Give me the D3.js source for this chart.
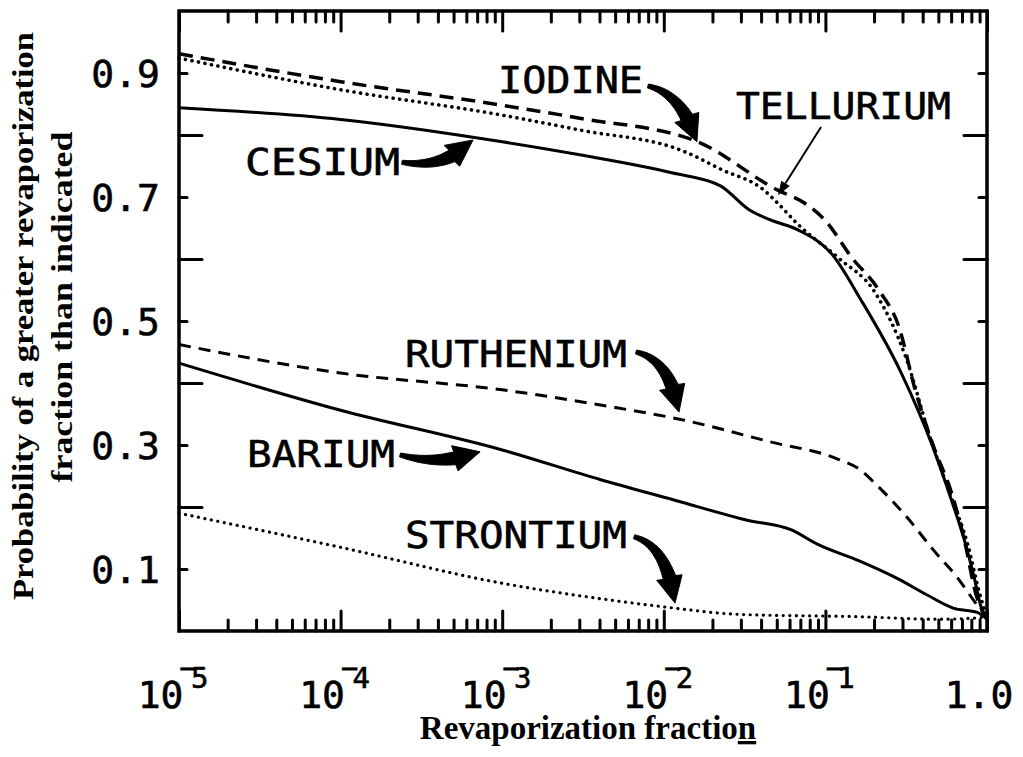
<!doctype html>
<html>
<head>
<meta charset="utf-8">
<style>
  body { margin: 0; background: #fff; }
  svg { display: block; }
  .mono { font-family: "DejaVu Sans Mono", monospace; fill: #000; stroke: #000; stroke-width: 0.6px; }
  .serif { font-family: "Liberation Serif", "Times New Roman", serif; font-weight: bold; fill: #000; }
  .tick line { stroke: #000; stroke-width: 3px; stroke-linecap: round; }
</style>
<script src="https://d3js.org/d3.v7.min.js"></script>
</head>
<body>
<svg width="1023" height="757"></svg>
<script>
// revaporization fraction (x) and probability of a greater value (y)
var cesiumX = [1e-5, 1e-4, 1e-3, 0.00302, 0.0112, 0.0224, 0.0339, 0.0457, 0.0676, 0.1096, 0.166, 0.295, 0.462, 0.603, 0.724, 0.832, 0.918, 1];
var cesiumY = [0.844, 0.825, 0.789, 0.768, 0.739, 0.718, 0.679, 0.663, 0.647, 0.608, 0.534, 0.416, 0.297, 0.211, 0.147, 0.087, 0.039, 0.018];

var iodineX = [1e-5, 1e-4, 1e-3, 0.00302, 0.01585, 0.0507, 0.0745, 0.0991, 0.146, 0.214, 0.288, 0.355, 0.468, 0.603, 0.724, 0.851, 1];
var iodineY = [0.931, 0.886, 0.848, 0.827, 0.790, 0.711, 0.690, 0.663, 0.602, 0.550, 0.487, 0.394, 0.297, 0.223, 0.147, 0.061, 0.020];

var telluriumX = [1e-5, 1e-4, 1e-3, 0.00302, 0.0132, 0.0229, 0.0417, 0.0507, 0.0676, 0.120, 0.204, 0.316, 0.447, 0.603, 0.759, 0.891, 1];
var telluriumY = [0.924, 0.873, 0.832, 0.808, 0.774, 0.744, 0.711, 0.690, 0.656, 0.602, 0.545, 0.440, 0.310, 0.215, 0.140, 0.065, 0.020];

var rutheniumX = [1e-5, 1e-4, 1e-3, 0.00513, 0.0123, 0.0457, 0.120, 0.162, 0.214, 0.316, 0.468, 0.661, 0.851, 1];
var rutheniumY = [0.462, 0.416, 0.389, 0.360, 0.342, 0.305, 0.277, 0.261, 0.232, 0.185, 0.130, 0.085, 0.045, 0.022];

var bariumX = [1e-5, 1e-4, 1e-3, 0.00407, 0.0117, 0.0324, 0.0617, 0.0891, 0.162, 0.282, 0.427, 0.617, 0.871, 1];
var bariumY = [0.432, 0.356, 0.292, 0.244, 0.211, 0.179, 0.163, 0.140, 0.113, 0.084, 0.058, 0.037, 0.030, 0.019];

var strontiumX = [1e-5, 1e-4, 1e-3, 0.00407, 0.0107, 0.0282, 0.166, 0.513, 1];
var strontiumY = [0.190, 0.135, 0.077, 0.052, 0.038, 0.027, 0.023, 0.019, 0.022];

var xMajorExps = [-5, -4, -3, -2, -1];
var xLastLabel = "1.0";
var yTickLabels = [0.1, 0.3, 0.5, 0.7, 0.9];
var yTicksAll = [0.1, 0.2, 0.3, 0.4, 0.5, 0.6, 0.7, 0.8, 0.9];

// element labels: [name, log10 x of centre, y of baseline, width in px]
var labels = [
  ["IODINE", -2.577, 0.868, 145],
  ["TELLURIUM", -0.888, 0.826, 215],
  ["CESIUM", -4.112, 0.735, 155],
  ["RUTHENIUM", -2.915, 0.426, 222],
  ["BARIUM", -4.121, 0.265, 148],
  ["STRONTIUM", -2.915, 0.134, 222]
];
// curved arrows: start, control, tip as [log10 x, y]
var arrows = [
  [[-2.098, 0.879], [-1.885, 0.866], [-1.795, 0.789]],
  [[-3.620, 0.756], [-3.354, 0.745], [-3.181, 0.792]],
  [[-2.172, 0.450], [-1.962, 0.437], [-1.906, 0.353]],
  [[-3.632, 0.284], [-3.385, 0.266], [-3.137, 0.289]],
  [[-2.184, 0.152], [-1.980, 0.137], [-1.931, 0.045]]
];
var telluriumPointer = [[-1.027, 0.813], [-1.293, 0.703]];

var svg = d3.select("svg");
var plotL = 179, plotR = 987, plotT = 11, plotB = 631;

var x = d3.scaleLog().domain([1e-5, 1]).range([plotL, plotR]);
var y = d3.scaleLinear().domain([0, 1]).range([plotB, plotT]);

function px(p) { return [x(Math.pow(10, p[0])), y(p[1])]; }

// ticks
var majors = xMajorExps.map(function(e) { return Math.pow(10, e); }).concat([1]);
var minors = [];
xMajorExps.forEach(function(e) {
  for (var k = 2; k <= 9; k++) minors.push(k * Math.pow(10, e));
});

function clean(g) { g.select(".domain").remove(); g.selectAll("text").remove(); }

svg.append("g").attr("transform", "translate(0," + plotB + ")")
   .call(d3.axisBottom(x).tickValues(majors).tickSize(-20).tickFormat("")).call(clean);
svg.append("g").attr("transform", "translate(0," + plotB + ")")
   .call(d3.axisBottom(x).tickValues(minors).tickSize(-11).tickFormat("")).call(clean);
svg.append("g").attr("transform", "translate(0," + plotT + ")")
   .call(d3.axisTop(x).tickValues(majors).tickSize(-20).tickFormat("")).call(clean);
svg.append("g").attr("transform", "translate(0," + plotT + ")")
   .call(d3.axisTop(x).tickValues(minors).tickSize(-11).tickFormat("")).call(clean);

var evenTicks = yTicksAll.filter(function(v, i) { return i % 2 == 1; });
var oddTicks = yTicksAll.filter(function(v, i) { return i % 2 == 0; });
svg.append("g").attr("transform", "translate(" + plotL + ",0)")
   .call(d3.axisLeft(y).tickValues(evenTicks).tickSize(-23).tickFormat("")).call(clean);
svg.append("g").attr("transform", "translate(" + plotL + ",0)")
   .call(d3.axisLeft(y).tickValues(oddTicks).tickSize(-8).tickFormat("")).call(clean);
svg.append("g").attr("transform", "translate(" + plotR + ",0)")
   .call(d3.axisRight(y).tickValues(evenTicks).tickSize(-23).tickFormat("")).call(clean);
svg.append("g").attr("transform", "translate(" + plotR + ",0)")
   .call(d3.axisRight(y).tickValues(oddTicks).tickSize(-8).tickFormat("")).call(clean);

// frame
svg.append("rect")
   .attr("x", plotL).attr("y", plotT)
   .attr("width", plotR - plotL).attr("height", plotB - plotT)
   .attr("fill", "none").attr("stroke", "#000").attr("stroke-width", 3.5);

// tick labels
svg.selectAll(".ylab").data(yTickLabels).enter().append("text")
   .attr("class", "mono")
   .attr("x", plotL - 19)
   .attr("y", function(d) { return y(d) + 14; })
   .attr("text-anchor", "end")
   .attr("font-size", 38)
   .text(function(d) { return d3.format(".1f")(d); });

xMajorExps.forEach(function(e) {
  var t = svg.append("text").attr("class", "mono")
     .attr("x", x(Math.pow(10, e)) - 6).attr("y", 708)
     .attr("text-anchor", "middle").attr("font-size", 38);
  t.append("tspan").text("10");
  t.append("tspan").attr("font-size", 29).attr("dx", -4).attr("dy", -30).text("\u2212");
  t.append("tspan").attr("font-size", 29).attr("dx", -6).attr("dy", 10).text(String(-e));
});
svg.append("text").attr("class", "mono")
   .attr("x", x(1) - 8).attr("y", 708)
   .attr("text-anchor", "middle").attr("font-size", 38)
   .text(xLastLabel);

// axis titles
var xt = svg.append("text").attr("class", "serif")
   .attr("x", (plotL + plotR) / 2 + 5).attr("y", 739)
   .attr("text-anchor", "middle").attr("font-size", 33);
xt.append("tspan").text("Revaporization fractio");
xt.append("tspan").attr("text-decoration", "underline").text("n");

svg.append("text").attr("class", "serif")
   .attr("transform", "translate(33,316) rotate(-90)")
   .attr("text-anchor", "middle").attr("font-size", 29)
   .attr("textLength", 568).attr("lengthAdjust", "spacingAndGlyphs")
   .text("Probability of a greater revaporization");
svg.append("text").attr("class", "serif")
   .attr("transform", "translate(72,307) rotate(-90)")
   .attr("text-anchor", "middle").attr("font-size", 29)
   .attr("textLength", 351).attr("lengthAdjust", "spacingAndGlyphs")
   .text("fraction than indicated");

// curves
var line = d3.line()
   .x(function(d) { return x(d[0]); })
   .y(function(d) { return y(d[1]); })
   .curve(d3.curveMonotoneX);

function zipXY(xs, ys) { return xs.map(function(v, i) { return [v, ys[i]]; }); }

var series = [
  { pts: zipXY(strontiumX, strontiumY), dash: "0.1 6.5", w: 3.2 },
  { pts: zipXY(bariumX, bariumY), dash: null, w: 3 },
  { pts: zipXY(rutheniumX, rutheniumY), dash: "12 8", w: 3 },
  { pts: zipXY(cesiumX, cesiumY), dash: null, w: 3 },
  { pts: zipXY(telluriumX, telluriumY), dash: "0.1 6.5", w: 3.6 },
  { pts: zipXY(iodineX, iodineY), dash: "14 8", w: 3.5 }
];

series.forEach(function(s) {
  svg.append("path")
     .attr("d", line(s.pts))
     .attr("fill", "none")
     .attr("stroke", "#000")
     .attr("stroke-width", s.w)
     .attr("stroke-dasharray", s.dash)
     .attr("stroke-linecap", s.dash && s.dash.indexOf("0.1") == 0 ? "round" : "butt")
     .attr("stroke-linejoin", "round");
});

// element names
labels.forEach(function(l) {
  var p = px([l[1], l[2]]);
  svg.append("text").attr("class", "mono")
     .attr("x", p[0]).attr("y", p[1])
     .attr("text-anchor", "middle").attr("font-size", 38)
     .attr("textLength", l[3]).attr("lengthAdjust", "spacingAndGlyphs")
     .text(l[0]);
});

// fat curved arrows
function bez(a, c, b, t) {
  var u = 1 - t;
  return [u * u * a[0] + 2 * u * t * c[0] + t * t * b[0], u * u * a[1] + 2 * u * t * c[1] + t * t * b[1]];
}
function bezD(a, c, b, t) {
  var dx = 2 * (1 - t) * (c[0] - a[0]) + 2 * t * (b[0] - c[0]);
  var dy = 2 * (1 - t) * (c[1] - a[1]) + 2 * t * (b[1] - c[1]);
  var n = Math.sqrt(dx * dx + dy * dy) || 1;
  return [dx / n, dy / n];
}
function fatArrow(a, c, b) {
  var headLen = 26, headW = 13, w0 = 2, w1 = 6.5;
  var tb = 1;
  while (tb > 0) {
    var q = bez(a, c, b, tb);
    if (Math.hypot(q[0] - b[0], q[1] - b[1]) >= headLen) break;
    tb -= 0.005;
  }
  var L = [], R = [], N = 30;
  for (var i = 0; i <= N; i++) {
    var t = tb * i / N, p = bez(a, c, b, t), d = bezD(a, c, b, t);
    var w = w0 + (w1 - w0) * i / N;
    L.push([p[0] - d[1] * w, p[1] + d[0] * w]);
    R.push([p[0] + d[1] * w, p[1] - d[0] * w]);
  }
  var B = bez(a, c, b, tb);
  var dir = [b[0] - B[0], b[1] - B[1]], n = Math.hypot(dir[0], dir[1]);
  dir = [dir[0] / n, dir[1] / n];
  var head = [[B[0] - dir[1] * headW, B[1] + dir[0] * headW], b, [B[0] + dir[1] * headW, B[1] - dir[0] * headW]];
  var pts = L.concat(head).concat(R.reverse());
  return "M" + pts.map(function(p) { return p[0].toFixed(1) + "," + p[1].toFixed(1); }).join("L") + "Z";
}

arrows.forEach(function(ar) {
  svg.append("path")
     .attr("d", fatArrow(px(ar[0]), px(ar[1]), px(ar[2])))
     .attr("fill", "#000").attr("stroke", "#000").attr("stroke-width", 1);
});

// thin pointer for tellurium
var p0 = px(telluriumPointer[0]), p1 = px(telluriumPointer[1]);
var ddx = p1[0] - p0[0], ddy = p1[1] - p0[1], len = Math.hypot(ddx, ddy);
var ux = ddx / len, uy = ddy / len;
var hb = [p1[0] - ux * 14, p1[1] - uy * 14];
svg.append("line")
   .attr("x1", p0[0]).attr("y1", p0[1]).attr("x2", hb[0]).attr("y2", hb[1])
   .attr("stroke", "#000").attr("stroke-width", 2);
svg.append("path")
   .attr("d", "M" + p1[0] + "," + p1[1] +
              "L" + (hb[0] - uy * 5) + "," + (hb[1] + ux * 5) +
              "L" + (hb[0] + uy * 5) + "," + (hb[1] - ux * 5) + "Z")
   .attr("fill", "#000");
</script>
</body>
</html>
